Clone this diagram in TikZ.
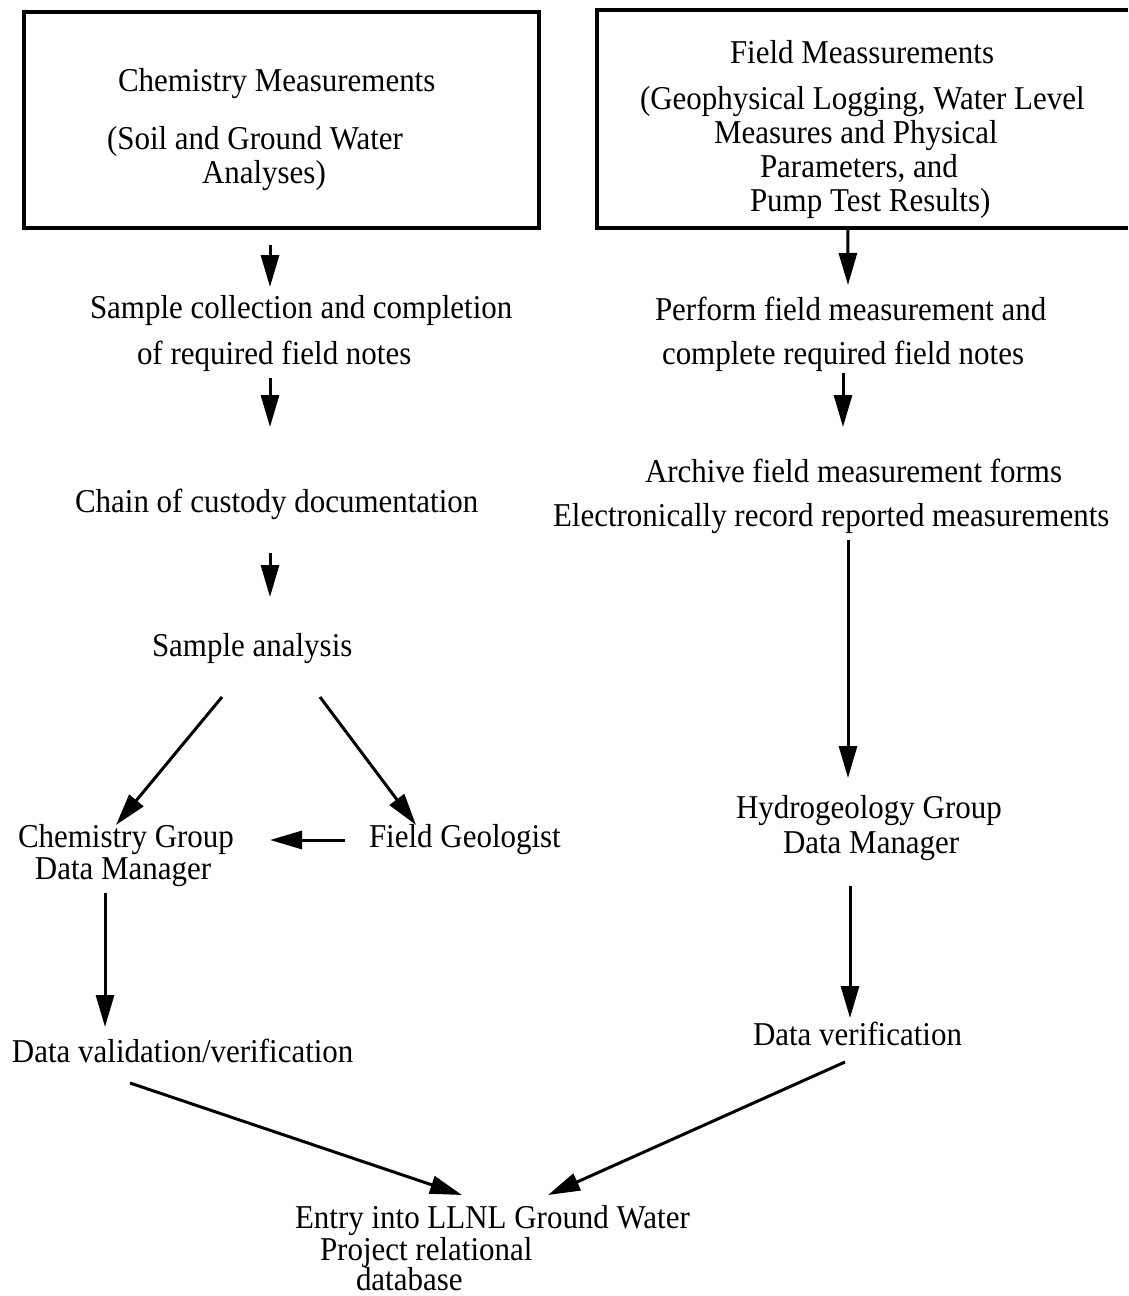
\documentclass[tikz,border=0pt]{standalone}
\usepackage{fontspec}
\setmainfont{Liberation Serif}[FakeStretch=0.93]
\usetikzlibrary{arrows.meta}
\begin{document}
\begin{tikzpicture}[x=1pt,y=-1pt,
  txt/.style={inner sep=0pt, outer sep=0pt, font=\fontsize{33.3}{34}\selectfont,
              anchor=base west, align=left},
  frame/.style={line width=3.5pt},
  arr/.style={line width=3pt, -{Triangle[length=32pt,width=18pt]}}]
\useasboundingbox (0,0) rectangle (1128,1296);

% ---- source boxes (multi-line nodes are placed by the baseline of their last line)
\node[frame, draw, minimum width=515pt, minimum height=216pt, inner sep=0pt] (box1) at (281.5,120) {};
\node[minimum width=531pt, minimum height=218pt, inner sep=0pt] (box2) at (862.5,119) {};
\draw[frame] (box2.north east) -- (box2.north west) -- (box2.south west) -- (box2.south east);

\node[txt] (box1text) at (107,183)
  {\hspace*{11pt}Chemistry Measurements\\[24pt](Soil and Ground Water\\\hspace*{95pt}Analyses)};
\node[txt] (box2text) at (640,211)
  {\hspace*{90pt}Field Meassurements\\[12pt](Geophysical Logging, Water Level\\
   \hspace*{74pt}Measures and Physical\\\hspace*{120pt}Parameters, and\\
   \hspace*{110pt}Pump Test Results)};

% ---- chemistry branch
\node[txt] (sample) at (90,364)
  {Sample collection and completion\\[12pt]\hspace*{47pt}of required field notes};
\node[txt] (chain) at (75,512) {Chain of custody documentation};
\node[txt] (analysis) at (152,656) {Sample analysis};
\node[txt] (chemgrp) at (18,879) {Chemistry Group\\[-2pt]\hspace*{17pt}Data Manager};
\node[txt] (geologist) at (369,847) {Field Geologist};
\node[txt] (validation) at (12,1062) {Data validation/verification};

% ---- field measurement branch
\node[txt] (perform) at (655,364)
  {Perform field measurement and\\[10pt]\hspace*{7pt}complete required field notes};
\node[txt] (archive) at (553,526)
  {\hspace*{92pt}Archive field measurement forms\\[10pt]Electronically record reported measurements};
\node[txt] (hydro) at (736,853) {Hydrogeology Group\\[1pt]\hspace*{47pt}Data Manager};
\node[txt] (verif) at (753,1045) {Data verification};

% ---- common sink
\node[txt] (entry) at (295,1290)
  {Entry into LLNL Ground Water\\[-2pt]\hspace*{25pt}Project relational\\[-4pt]\hspace*{61pt}database};

% ---- connectors, chemistry side
\draw[arr] ([shift={(-11.5,15)}]box1.south) -- ([shift={(180,-77)}]sample.base west);
\draw[arr] ([shift={(180,14)}]sample.base west) -- ([shift={(195,-85)}]chain.base west);
\draw[arr] ([shift={(195,41)}]chain.base west) -- ([shift={(118,-59)}]analysis.base west);
\draw[arr] ([shift={(70,41)}]analysis.base west) -- ([shift={(98,-54)}]chemgrp.base west);
\draw[arr] ([shift={(168,41)}]analysis.base west) -- ([shift={(47,-22)}]geologist.base west);
\draw[arr] ([shift={(-24,-7)}]geologist.base west) -- ([shift={(252,-39)}]chemgrp.base west);
\draw[arr] ([shift={(87,14)}]chemgrp.base west) -- ([shift={(93,-35)}]validation.base west);
\draw[arr] ([shift={(118,21)}]validation.base west) -- ([shift={(167,-95)}]entry.base west);

% ---- connectors, field side
\draw[arr] ([shift={(251,2)}]box2.south west) -- ([shift={(193,-79)}]perform.base west);
\draw[arr] ([shift={(188,9)}]perform.base west) -- ([shift={(290,-99)}]archive.base west);
\draw[arr] ([shift={(295,14)}]archive.base west) -- ([shift={(112,-75)}]hydro.base west);
\draw[arr] ([shift={(114,33)}]hydro.base west) -- ([shift={(97,-27)}]verif.base west);
\draw[arr] ([shift={(92,17)}]verif.base west) -- ([shift={(253,-95)}]entry.base west);
\end{tikzpicture}
\end{document}
